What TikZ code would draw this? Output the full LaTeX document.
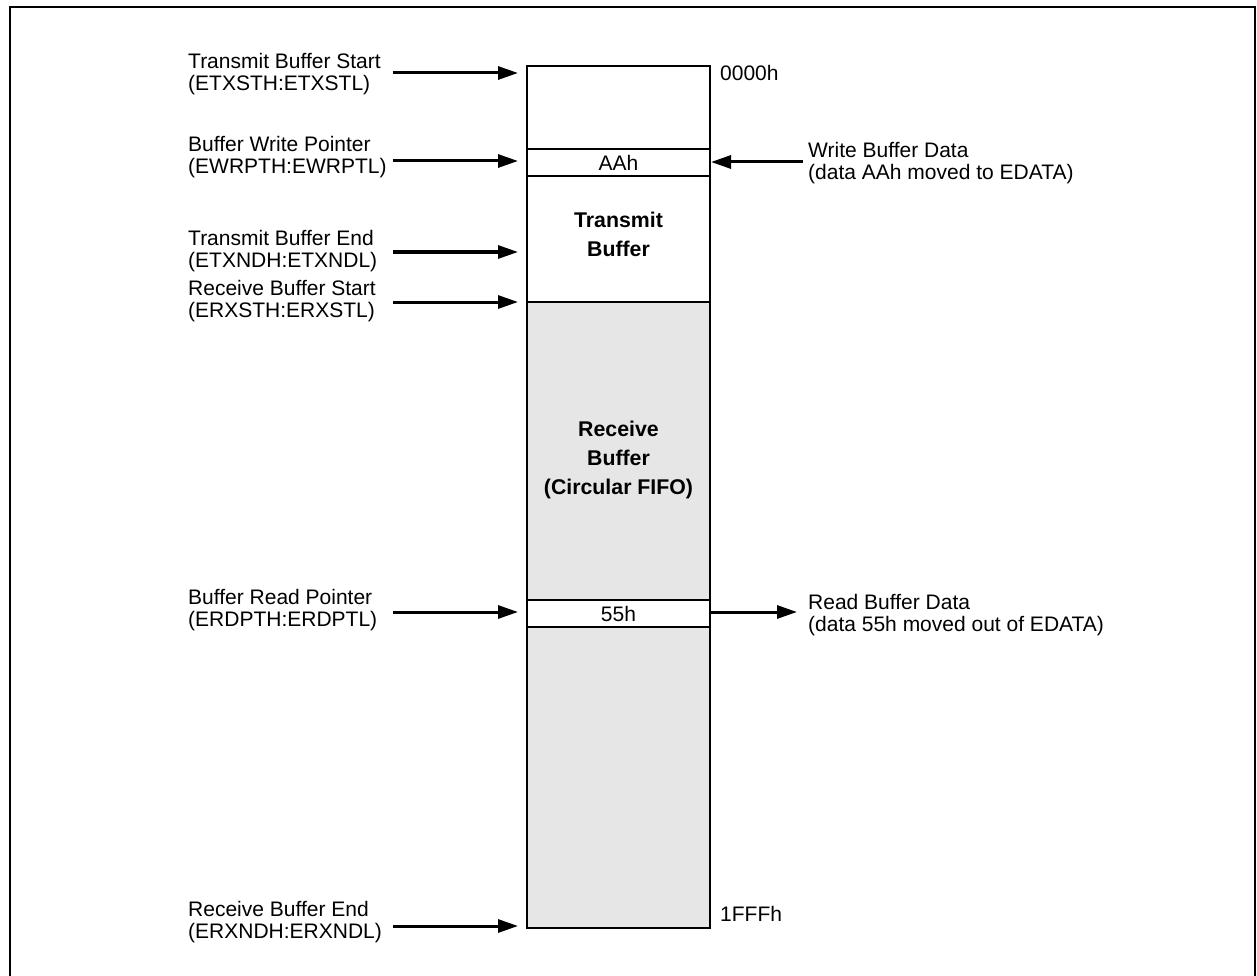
\documentclass[tikz,border=0pt]{standalone}
\usepackage{fontspec}
\setmainfont{Liberation Sans}
\usetikzlibrary{arrows.meta}
\definecolor{rxgray}{RGB}{230,230,230}
\tikzset{
  lbl/.style={font=\fontsize{21}{22}\selectfont, align=left, inner sep=0pt},
  boxlbl/.style={font=\fontsize{21.3}{29}\selectfont\bfseries, align=center, inner sep=0pt},
  arr/.style={line width=3pt, -{Triangle[length=20pt,width=13pt]}},
  thin line/.style={line width=2pt}
}
\begin{document}
\begin{tikzpicture}[x=1pt,y=-1pt]
\useasboundingbox (0,0) rectangle (1257,976);
% frame
\draw[line width=2.5pt] (10,7) -- (1255,7) -- (1255,990) -- (10,990) -- cycle;
% memory column
\fill[rxgray] (527,302) rectangle (710,928);
\fill[white] (527,600) rectangle (710,627);
\draw[thin line] (527,66) rectangle (710,928);
\draw[thin line] (527,149) -- (710,149);
\draw[thin line] (527,176) -- (710,176);
\draw[thin line] (527,302) -- (710,302);
\draw[thin line] (527,600) -- (710,600);
\draw[thin line] (527,627) -- (710,627);
\node[lbl] (aah) at (618.5,163) {AAh};
\node[lbl] (d55) at (618.5,614) {55h};
\node[boxlbl] (txb) at (618.5,234) {Transmit\\Buffer};
\node[boxlbl] (rxb) at (618.5,460) {Receive\\Buffer\\(Circular FIFO)};
\node[lbl, anchor=west] (a0) at (720,73) {0000h};
\node[lbl, anchor=west] (a1) at (720,914) {1FFFh};
% left labels
\node[lbl, anchor=west] (tbs) at (188,74) {Transmit Buffer Start\\(ETXSTH:ETXSTL)};
\node[lbl, anchor=west] (bwp) at (188,157) {Buffer Write Pointer\\(EWRPTH:EWRPTL)};
\node[lbl, anchor=west] (tbe) at (188,251) {Transmit Buffer End\\(ETXNDH:ETXNDL)};
\node[lbl, anchor=west] (rbs) at (188,301) {Receive Buffer Start\\(ERXSTH:ERXSTL)};
\node[lbl, anchor=west] (brp) at (188,610) {Buffer Read Pointer\\(ERDPTH:ERDPTL)};
\node[lbl, anchor=west] (rbe) at (188,922) {Receive Buffer End\\(ERXNDH:ERXNDL)};
% right labels
\node[lbl, anchor=west] (wbd) at (808,163) {Write Buffer Data\\(data AAh moved to EDATA)};
\node[lbl, anchor=west] (rbd) at (808,615) {Read Buffer Data\\(data 55h moved out of EDATA)};
% arrow coordinates
\coordinate (tbsS) at (393,73);  \coordinate (tbsE) at (518,73);
\coordinate (bwpS) at (393,161); \coordinate (bwpE) at (518,161);
\coordinate (tbeS) at (393,252); \coordinate (tbeE) at (518,252);
\coordinate (rbsS) at (393,302); \coordinate (rbsE) at (518,302);
\coordinate (brpS) at (393,612); \coordinate (brpE) at (518,612);
\coordinate (rbeS) at (393,926); \coordinate (rbeE) at (518,926);
\coordinate (wbdS) at (803,162); \coordinate (wbdE) at (711,162);
\coordinate (rbdS) at (710,612); \coordinate (rbdE) at (797,612);
\draw[arr] (tbsS) -- (tbsE);
\draw[arr] (bwpS) -- (bwpE);
\draw[arr] (tbeS) -- (tbeE);
\draw[arr] (rbsS) -- (rbsE);
\draw[arr] (brpS) -- (brpE);
\draw[arr] (rbeS) -- (rbeE);
\draw[arr] (wbdS) -- (wbdE);
\draw[arr] (rbdS) -- (rbdE);
\end{tikzpicture}
\end{document}
